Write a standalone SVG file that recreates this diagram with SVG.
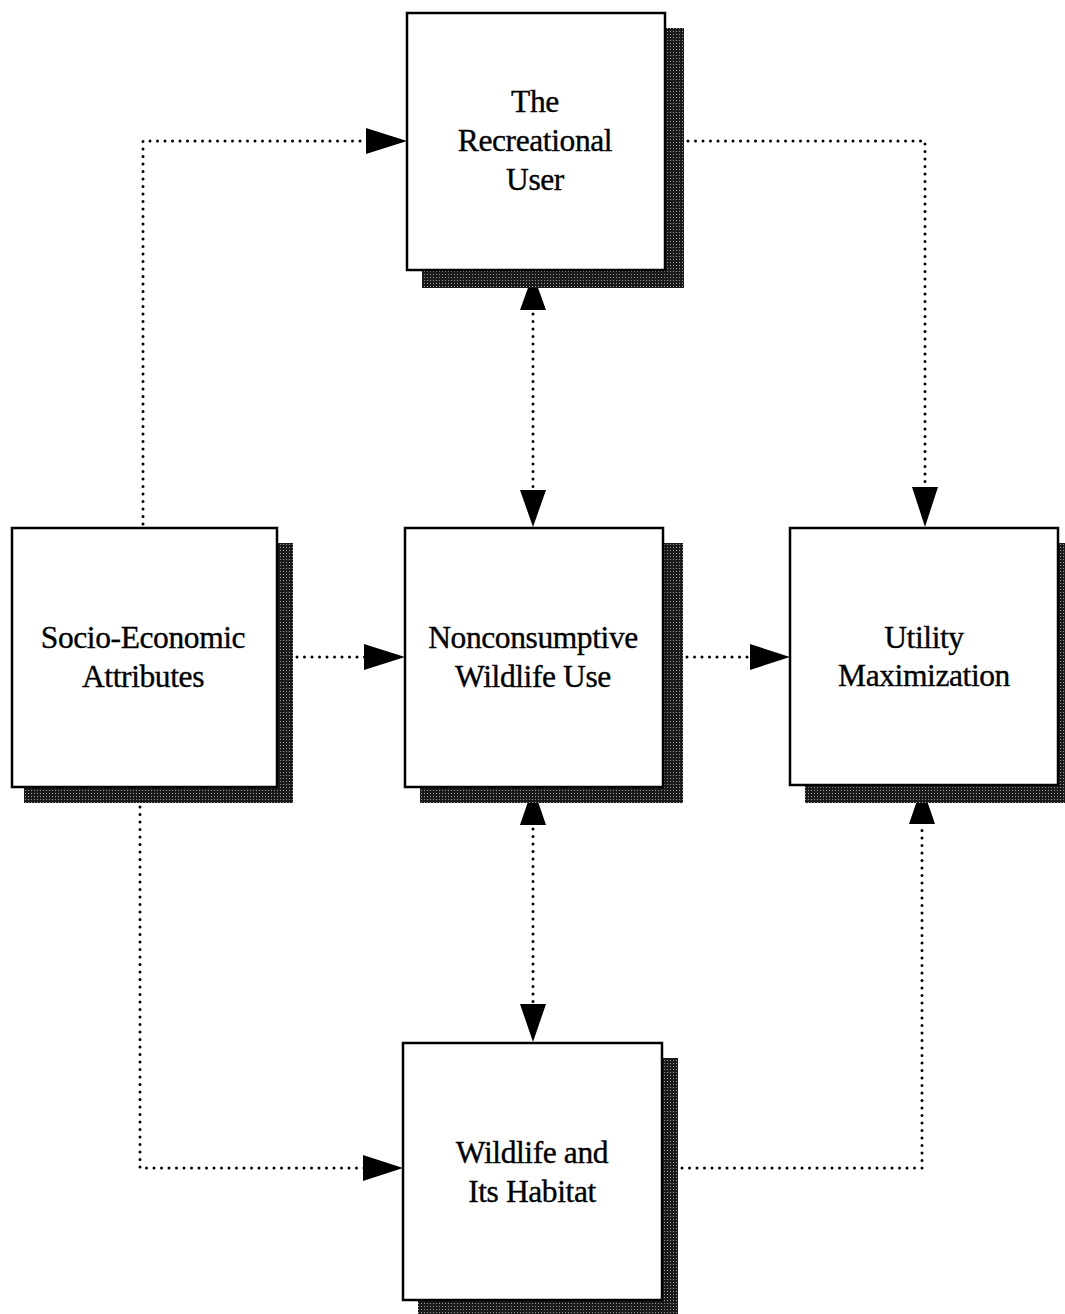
<svg xmlns="http://www.w3.org/2000/svg" width="1065" height="1314" viewBox="0 0 1065 1314">
<style>
.box{fill:#fff;stroke:#000;stroke-width:2.5}
.sh{fill:url(#stip)}
.lbl{font-family:"Liberation Serif","Times New Roman",serif;font-size:31.5px;fill:#000;stroke:#000;stroke-width:0.35;text-anchor:middle;letter-spacing:-0.4px}
.dot{fill:none;stroke:#000;stroke-width:3;stroke-linecap:round;stroke-dasharray:0 7.5}
.ah{fill:#000}
</style>
<defs>
<pattern id="stip" width="3" height="3" patternUnits="userSpaceOnUse">
<rect width="3" height="3" fill="#1a1a1a"/>
<rect x="1" y="1" width="1" height="1" fill="#9a9a9a"/>
</pattern>
</defs>
<rect width="1065" height="1314" fill="#fff"/>
<g id="connectors">
<path class="dot" d="M143,524 V141 H370"/>
<polygon class="ah" points="407,141 366,128 366,154"/>
<path class="dot" d="M688,141 H925 V490"/>
<polygon class="ah" points="925,527 912,487 938,487"/>
<path class="dot" d="M533,314 V490"/>
<polygon class="ah" points="533,274 520,310 546,310"/>
<polygon class="ah" points="533,527 520,490 546,490"/>
<path class="dot" d="M297,657 H366"/>
<polygon class="ah" points="405,657 364,644 364,670"/>
<path class="dot" d="M687,657 H752"/>
<polygon class="ah" points="790,657 750,644 750,670"/>
<path class="dot" d="M533,829 V1003"/>
<polygon class="ah" points="533,787 520,825 546,825"/>
<polygon class="ah" points="533,1042 520,1004 546,1004"/>
<path class="dot" d="M140,807 V1168 H365"/>
<polygon class="ah" points="403,1168 363,1155 363,1181"/>
<path class="dot" d="M682,1168 H922 V826"/>
<polygon class="ah" points="922,786 909,824 935,824"/>
</g>
<g id="node-user">
<rect class="sh" x="422" y="28" width="262" height="260"/>
<rect class="box" x="407" y="13" width="258" height="257"/>
<text class="lbl" x="535" y="112">The</text>
<text class="lbl" x="535" y="151">Recreational</text>
<text class="lbl" x="535" y="190">User</text>
</g>
<g id="node-socio">
<rect class="sh" x="24" y="543" width="269" height="260"/>
<rect class="box" x="12" y="528" width="265" height="259"/>
<text class="lbl" x="143" y="648">Socio-Economic</text>
<text class="lbl" x="143" y="687">Attributes</text>
</g>
<g id="node-use">
<rect class="sh" x="420" y="543" width="263" height="260"/>
<rect class="box" x="405" y="528" width="258" height="259"/>
<text class="lbl" x="533" y="648">Nonconsumptive</text>
<text class="lbl" x="533" y="687">Wildlife Use</text>
</g>
<g id="node-utility">
<rect class="sh" x="805" y="543" width="262" height="260"/>
<rect class="box" x="790" y="528" width="268" height="257"/>
<text class="lbl" x="924" y="648">Utility</text>
<text class="lbl" x="924" y="686">Maximization</text>
</g>
<g id="node-habitat">
<rect class="sh" x="418" y="1058" width="260" height="260"/>
<rect class="box" x="403" y="1043" width="259" height="257"/>
<text class="lbl" x="532" y="1163">Wildlife and</text>
<text class="lbl" x="532" y="1202">Its Habitat</text>
</g>
</svg>
